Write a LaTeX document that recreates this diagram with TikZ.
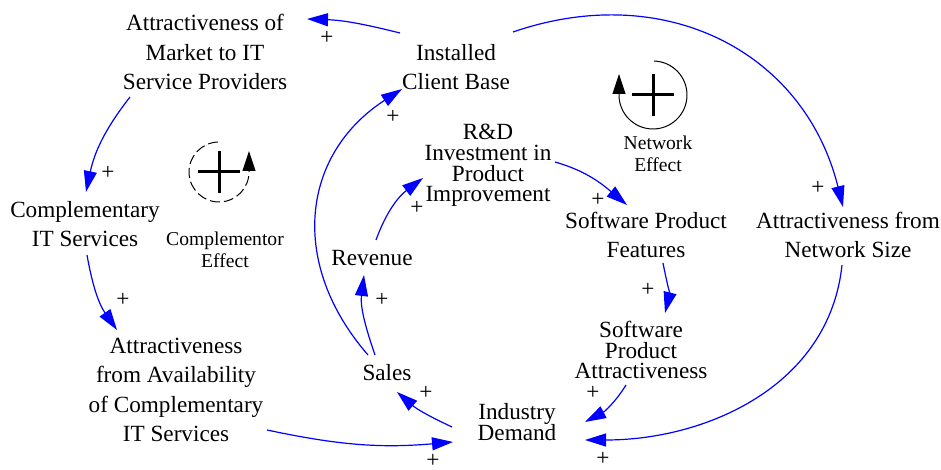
\documentclass[tikz,border=0pt]{standalone}
\usepackage{fontspec}
\setmainfont{Liberation Serif}
\usetikzlibrary{arrows.meta,calc}
\definecolor{linkblue}{RGB}{0,0,255}
\newcommand\tightlines{\lineskiplimit=-10pt\relax}
\tikzset{
	var/.style={align=center,inner sep=0pt,font=\fontsize{11.6}{14.7}\selectfont},
	tightvar/.style={align=center,inner sep=0pt,font=\fontsize{11.6}{10.4}\selectfont\tightlines},
	loopname/.style={align=center,inner sep=0pt,font=\fontsize{9.8}{11.3}\selectfont},
	sign/.style={inner sep=0pt,font=\fontsize{11.6}{12}\selectfont},
	link/.style={draw=linkblue,line width=0.6pt,-{Triangle[length=10.5pt,width=6.5pt]}},
	loopline/.style={line width=0.5pt,-{Triangle[length=10pt,width=6.5pt]}},
	plusbar/.style={line width=1.5pt}
}
\begin{document}
\begin{tikzpicture}[x=0.5pt,y=0.5pt]
			\useasboundingbox (0,0) rectangle (941,470);
			\node[var] (mkt) at (205,418) {Attractiveness of\\Market to IT\\Service Providers};
			\node[var] (inst) at (456,403) {Installed\\Client Base};
			\node[tightvar] (rnd) at (488,304.5) {R\&D\\Investment in\\Product\\Improvement};
			\node[var] (cits) at (85,246) {Complementary\\IT Services};
			\node[var] (afa) at (176,80) {Attractiveness\\from Availability\\of Complementary\\IT Services};
			\node[var] (rev) at (372,212) {Revenue};
			\node[var] (sales) at (387,97) {Sales};
			\node[tightvar] (dem) at (517,48) {Industry\\Demand};
			\node[var] (spf) at (646,235) {Software Product\\Features};
			\node[var] (afn) at (848,235) {Attractiveness from\\Network Size};
			\node[tightvar] (spa) at (641,120) {Software\\Product\\Attractiveness};
			\node[loopname] (compname) at (225,220) {Complementor\\Effect};
			\node[loopname] (netname) at (658,316) {Network\\Effect};
			\coordinate (comploop) at (219,298);
			\coordinate (netloop) at (653,375);
			\draw[loopline,dash pattern=on 5pt off 2pt] (comploop) ++(92:30) arc (92:360:30) -- ++(0,21);
			\draw[plusbar] (comploop) +(-21,0) -- +(21,0) +(0,-21) -- +(0,21);
			\draw[loopline] (netloop) ++(88:34) arc (88:-180:34) -- ++(0,21);
			\draw[plusbar] (netloop) +(-21,0) -- +(21,0) +(0,-21) -- +(0,21);
			\draw[link] ($(inst)+(-56,34)$) to[out=166,in=-2] ($(mkt)+(102,33)$);
			\draw[link] ($(mkt)+(-75,-45)$) to[out=232,in=78] ($(cits)+(1,32)$);
			\draw[link] ($(cits)+(2,-31)$) to[out=280,in=125] ($(afa)+(-59,60)$);
			\draw[link] ($(afa)+(91,-40)$) to[out=-12,in=185] ($(dem)+(-64,-20)$);
			\draw[link] ($(dem)+(-65,-5)$) to[out=155,in=-41] ($(sales)+(10,-19)$);
			\draw[link] ($(sales)+(-12,18)$) to[out=109,in=-97] ($(rev)+(-8,-17)$);
			\draw[link] ($(sales)+(-19,18)$) to[out=131,in=213,looseness=1.15] ($(inst)+(-54,-22)$);
			\draw[link] ($(rev)+(4,18)$) to[out=70,in=217] ($(rnd)+(-65,-12.5)$);
			\draw[link] ($(rnd)+(67,3.5)$) to[out=-16,in=140] ($(spf)+(-19,30)$);
			\draw[link] ($(inst)+(57,35)$) to[out=19,in=104,looseness=1.1] ($(afn)+(-5,28)$);
			\draw[link] ($(spf)+(17,-28)$) to[out=281,in=76] ($(spa)+(24,37)$);
			\draw[link] ($(spa)+(-15,-35)$) to[out=238,in=28] ($(dem)+(68,0)$);
			\draw[link] ($(afn)+(-6,-30)$) to[out=264,in=0] ($(dem)+(68,-18)$);
			\node[sign] (s1) at (327,432) {+};
			\node[sign] (s2) at (108,297) {+};
			\node[sign] (s3) at (123,170) {+};
			\node[sign] (s4) at (433,9) {+};
			\node[sign] (s5) at (426,77) {+};
			\node[sign] (s6) at (382,170) {+};
			\node[sign] (s7) at (393,353) {+};
			\node[sign] (s8) at (417,262) {+};
			\node[sign] (s9) at (598,270) {+};
			\node[sign] (s10) at (818,282) {+};
			\node[sign] (s11) at (648,180) {+};
			\node[sign] (s12) at (593,77) {+};
			\node[sign] (s13) at (603,11) {+};
\end{tikzpicture}
\end{document}
